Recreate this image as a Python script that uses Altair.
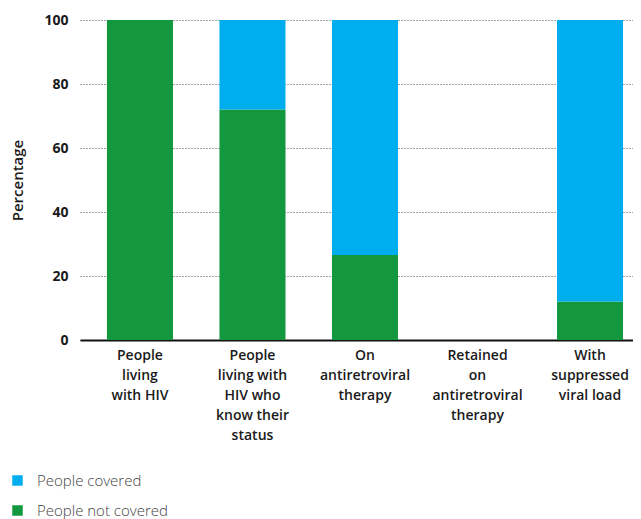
import altair as alt
import pandas as pd

categories = [
    "People|living|with HIV",
    "People|living with|HIV who|know their|status",
    "On|antiretroviral|therapy",
    "Retained|on|antiretroviral|therapy",
    "With|suppressed|viral load",
]
not_covered = [100, 72, 26.6, 0, 12]
covered = [0, 28, 73.4, 0, 88]
series = ["People covered", "People not covered"]
colors = ["#00AEEF", "#13973F"]

rows = []
for c, nc, cv in zip(categories, not_covered, covered):
    rows.append({"category": c, "series": series[1], "value": nc, "ord": 0})
    rows.append({"category": c, "series": series[0], "value": cv, "ord": 1})
df = pd.DataFrame(rows)

FONT = "Open Sans"

chart = alt.Chart(df).mark_bar().encode(
    x=alt.X(
        "category:N",
        sort=categories,
        scale=alt.Scale(paddingInner=0.413, paddingOuter=0.164, align=0.73),
        axis=alt.Axis(
            title=None,
            labelAngle=0,
            labelExpr="split(datum.label, '|')",
            labelBaseline="top",
            labelLineHeight=20,
            labelPadding=8,
            labelFont=FONT,
            labelFontSize=14,
            labelFontWeight=600,
            labelColor="#1a1a1a",
            ticks=False,
            domainColor="#111111",
            domainWidth=2,
            grid=False,
            labelLimit=200,
        ),
    ),
    y=alt.Y(
        "value:Q",
        stack="zero",
        scale=alt.Scale(domain=[0, 100], nice=False),
        axis=alt.Axis(
            title="Percentage",
            values=[0, 20, 40, 60, 80, 100],
            titleFont=FONT,
            titleFontSize=15,
            titleFontWeight=600,
            titleColor="#1a1a1a",
            titlePadding=18,
            labelFont=FONT,
            labelFontSize=14,
            labelFontWeight=700,
            labelColor="#1a1a1a",
            labelPadding=12,
            ticks=False,
            domain=False,
            grid=True,
            gridDash=[1, 2],
            gridColor="#444444",
            gridWidth=1,
        ),
    ),
    color=alt.Color(
        "series:N",
        scale=alt.Scale(domain=series, range=colors),
        legend=alt.Legend(
            title=None,
            orient="none",
            legendX=-70,
            legendY=453,
            direction="vertical",
            symbolType="square",
            symbolSize=110,
            symbolStrokeWidth=0,
            symbolOpacity=1,
            labelFont=FONT,
            labelFontSize=15,
            labelFontWeight=300,
            labelColor="#444444",
            labelOffset=12,
            rowPadding=14,
            padding=0,
        ),
    ),
    order=alt.Order("ord:Q"),
).properties(
    width=553,
    height=320,
    padding={"left": 72, "top": 12, "right": 0, "bottom": 179},
    autosize=alt.AutoSizeParams(type="none"),
).configure_view(stroke=None)

chart.save("out.html", embed_options={"renderer": "svg", "actions": False})
